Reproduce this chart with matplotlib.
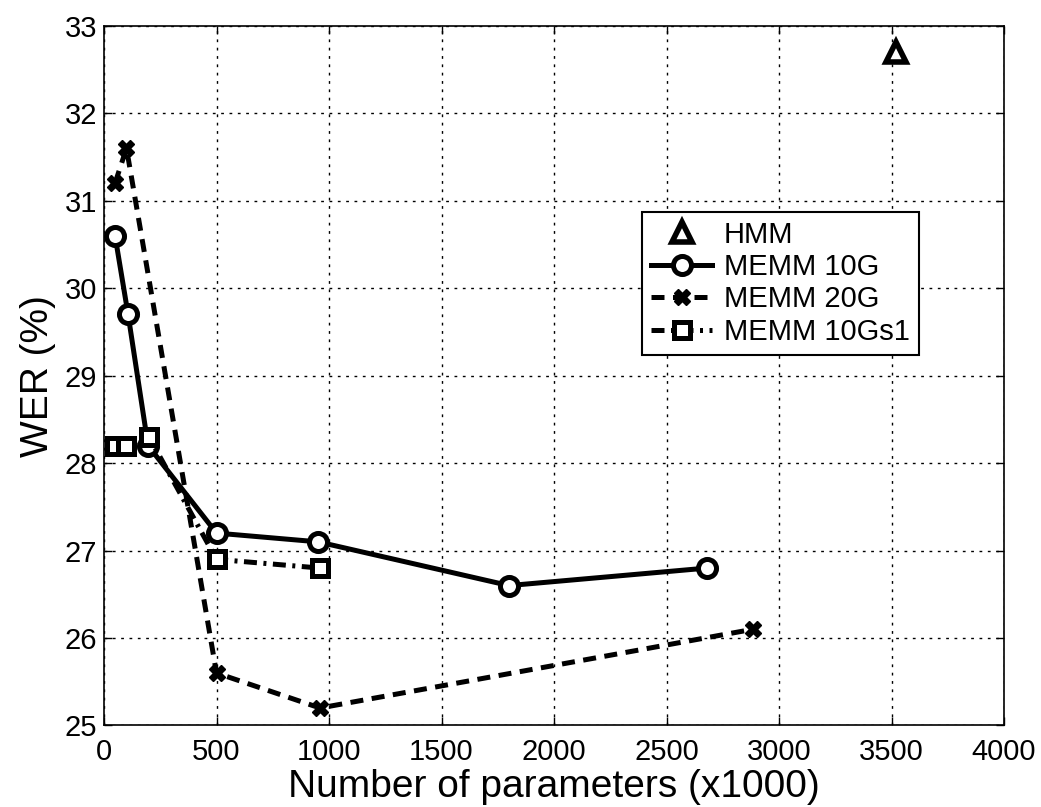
import matplotlib
matplotlib.use("Agg")
import matplotlib.pyplot as plt

plt.rcParams['font.family'] = ['Liberation Sans', 'DejaVu Sans']

hmm_x = [3520]
hmm_y = [32.7]

memm10g_x = [49, 107, 196, 500, 951, 1800, 2680]
memm10g_y = [30.6, 29.7, 28.2, 27.2, 27.1, 26.6, 26.8]

memm20g_x = [49, 100, 500, 960, 2884]
memm20g_y = [31.2, 31.6, 25.6, 25.2, 26.1]

memm10gs1_x = [49, 100, 200, 500, 960]
memm10gs1_y = [28.2, 28.2, 28.3, 26.9, 26.8]

xticks = [0, 500, 1000, 1500, 2000, 2500, 3000, 3500, 4000]
yticks = [25, 26, 27, 28, 29, 30, 31, 32, 33]

fig = plt.figure(figsize=(10.41, 8.07), dpi=100)
ax = fig.add_axes([0.0999, 0.101, 0.8646, 0.867])

ax.plot(hmm_x, hmm_y, linestyle='none', marker='^', markersize=15,
        markerfacecolor='white', markeredgecolor='black', markeredgewidth=4, label='HMM')
ax.plot(memm10g_x, memm10g_y, color='black', linewidth=3.6, marker='o', markersize=13,
        markerfacecolor='white', markeredgecolor='black', markeredgewidth=3.6, label='MEMM 10G')
ax.plot(memm20g_x, memm20g_y, color='black', linewidth=3.6, linestyle=(0, (2.6, 1.7)),
        marker='X', markersize=11, markerfacecolor='black', markeredgecolor='black',
        markeredgewidth=1, label='MEMM 20G')
ax.plot(memm10gs1_x, memm10gs1_y, color='black', linewidth=3.6, linestyle=(0, (2.6, 1.3, 0.6, 1.3)),
        marker='s', markersize=12, markerfacecolor='white', markeredgecolor='black',
        markeredgewidth=3.6, label='MEMM 10Gs1')

ax.set_xlim(0, 4000)
ax.set_ylim(25, 33)
ax.set_xticks(xticks)
ax.set_yticks(yticks)
ax.tick_params(axis='both', direction='in', length=6, width=1, labelsize=21, top=True, right=True)
ax.tick_params(axis='x', pad=9)
ax.tick_params(axis='y', pad=5)
ax.grid(True, color='black', linestyle=(0, (2, 4)), linewidth=1)
for s in ax.spines.values():
    s.set_linewidth(1.2)

ax.set_xlabel('Number of parameters (x1000)', fontsize=28, labelpad=2)
ax.set_ylabel('WER (%)', fontsize=28, labelpad=6)

leg = ax.legend(loc='upper left', bbox_to_anchor=(0.598, 0.734), fontsize=21,
                frameon=True, fancybox=False, edgecolor='black', framealpha=1,
                handlelength=2.1, handletextpad=0.4, borderpad=0.3, labelspacing=0.15,
                borderaxespad=0)
leg.get_frame().set_linewidth(1.5)

fig.savefig('out.png', dpi=100)
